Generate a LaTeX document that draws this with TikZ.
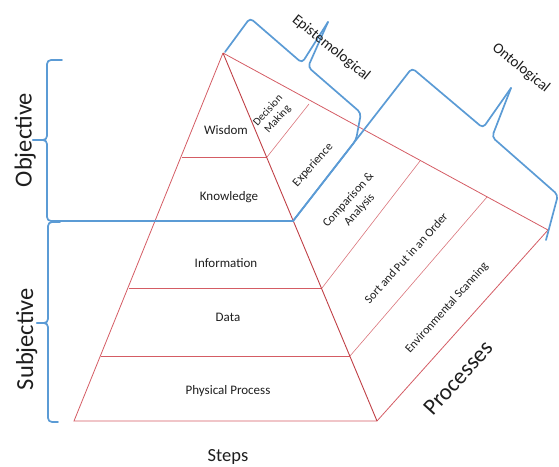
\documentclass[tikz,border=0pt]{standalone}
\usepackage{fontspec}
\setmainfont{Carlito}
\definecolor{redline}{RGB}{212,92,100}
\definecolor{darkred}{RGB}{192,64,70}
\definecolor{braceblue}{RGB}{91,155,213}
\definecolor{txt}{RGB}{30,30,30}
\newcommand{\fsz}[1]{\fontsize{#1}{#1}\selectfont}
\begin{document}
\begin{tikzpicture}[x=1pt,y=-1pt,
  edge/.style={draw=redline, line width=0.8pt},
  mainedge/.style={draw=darkred, line width=0.9pt},
  divider/.style={draw=redline!85, line width=0.6pt},
  brace/.style={draw=braceblue, line width=1.7pt, rounded corners=4pt, line cap=round, line join=round},
  lbl/.style={font=\fsz{13}, text=txt, inner sep=0pt},
  proc/.style={font=\fsz{12}, text=txt, rotate=48, align=center, inner sep=0pt},
  side/.style={font=\fsz{24.5}, text=txt, rotate=90, anchor=base, inner sep=0pt},
  slanted/.style={font=\fsz{15}, text=txt, rotate=-39, inner sep=0pt},
]
\useasboundingbox (0,0) rectangle (559,466);

% corners of the pyramid and of the process wedge
\coordinate (A) at (223,53);
\coordinate (L) at (74,421);
\coordinate (Q) at (377,421);
\coordinate (P) at (548,230);
% row boundaries on the left and right edges
\coordinate (l1) at (182,157); \coordinate (r1) at (267,157);
\coordinate (l2) at (156,221); \coordinate (r2) at (293,221);
\coordinate (l3) at (129,288); \coordinate (r3) at (322,288);
\coordinate (l4) at (101,356); \coordinate (r4) at (350,356);
% process dividers on the upper edge
\coordinate (t1) at (309,104);
\coordinate (t3) at (420,161);
\coordinate (t4) at (487,197);

% pyramid of steps
\draw[edge] (A) -- (L) -- (Q);
\draw[edge] (l1) -- (r1);
\draw[edge] (l2) -- (r2);
\draw[edge] (l3) -- (r3);
\draw[edge] (l4) -- (r4);
% wedge of processes
\draw[edge] (A) -- (P) -- (Q);
\draw[divider] (r1) -- (t1);
\draw[divider] (r3) -- (t3);
\draw[divider] (r4) -- (t4);
\draw[mainedge] (A) -- (Q);

% objective / subjective braces
\draw[brace] (62,60) -- (47,60) -- (47,140) -- (33,140);
\draw[brace] (33,140) -- (47,140) -- (47,221) -- (r2);
\draw[brace] (60,222) -- (48,222) -- (48,323) -- (37,323);
\draw[brace] (37,323) -- (48,323) -- (48,422) -- (58,422);

% epistemological brace
\draw[brace] (225,52) -- (250,18) -- (302,63) -- (328,22);
\draw[brace] (328,22) -- (308,67) -- (361,113) -- (356,140) -- (r2);

% ontological brace
\draw[brace] (r2) -- (412,68) -- (483,128) -- (511,88);
\draw[brace] (511,88) -- (492,137) -- (558,195) -- (546,240);

% step labels
\node[lbl] (wisdom) at (226,130) {Wisdom};
\node[lbl] (knowledge) at (229,197) {Knowledge};
\node[lbl] (information) at (226,263) {Information};
\node[lbl] (data) at (228,317) {Data};
\node[lbl] (physical) at (228,391) {Physical Process};
\node[font=\fsz{18.5}, text=txt, inner sep=0pt] (steps) at (228,457) {Steps};

% process labels
\node[proc, font=\fsz{11}] (decision) at (273,115) {Decision\\[2pt]Making};
\node[proc] (experience) at (313,165) {Experience};
\node[proc] (comparison) at (354,205) {Comparison \&\\[3pt]Analysis};
\node[proc] (sort) at (406,258) {Sort and Put in an Order};
\node[proc] (scanning) at (447,308) {Environmental Scanning};
\node[font=\fsz{23}, text=txt, rotate=48, inner sep=0pt] (processes) at (458,378) {Processes};

% brace labels
\node[side] (objective) at (31.5,140) {Objective};
\node[side] (subjective) at (33,339) {Subjective};
\node[slanted] (episte) at (331,48) {Epistemological};
\node[slanted] (onto) at (521,68) {Ontological};
\end{tikzpicture}
\end{document}
